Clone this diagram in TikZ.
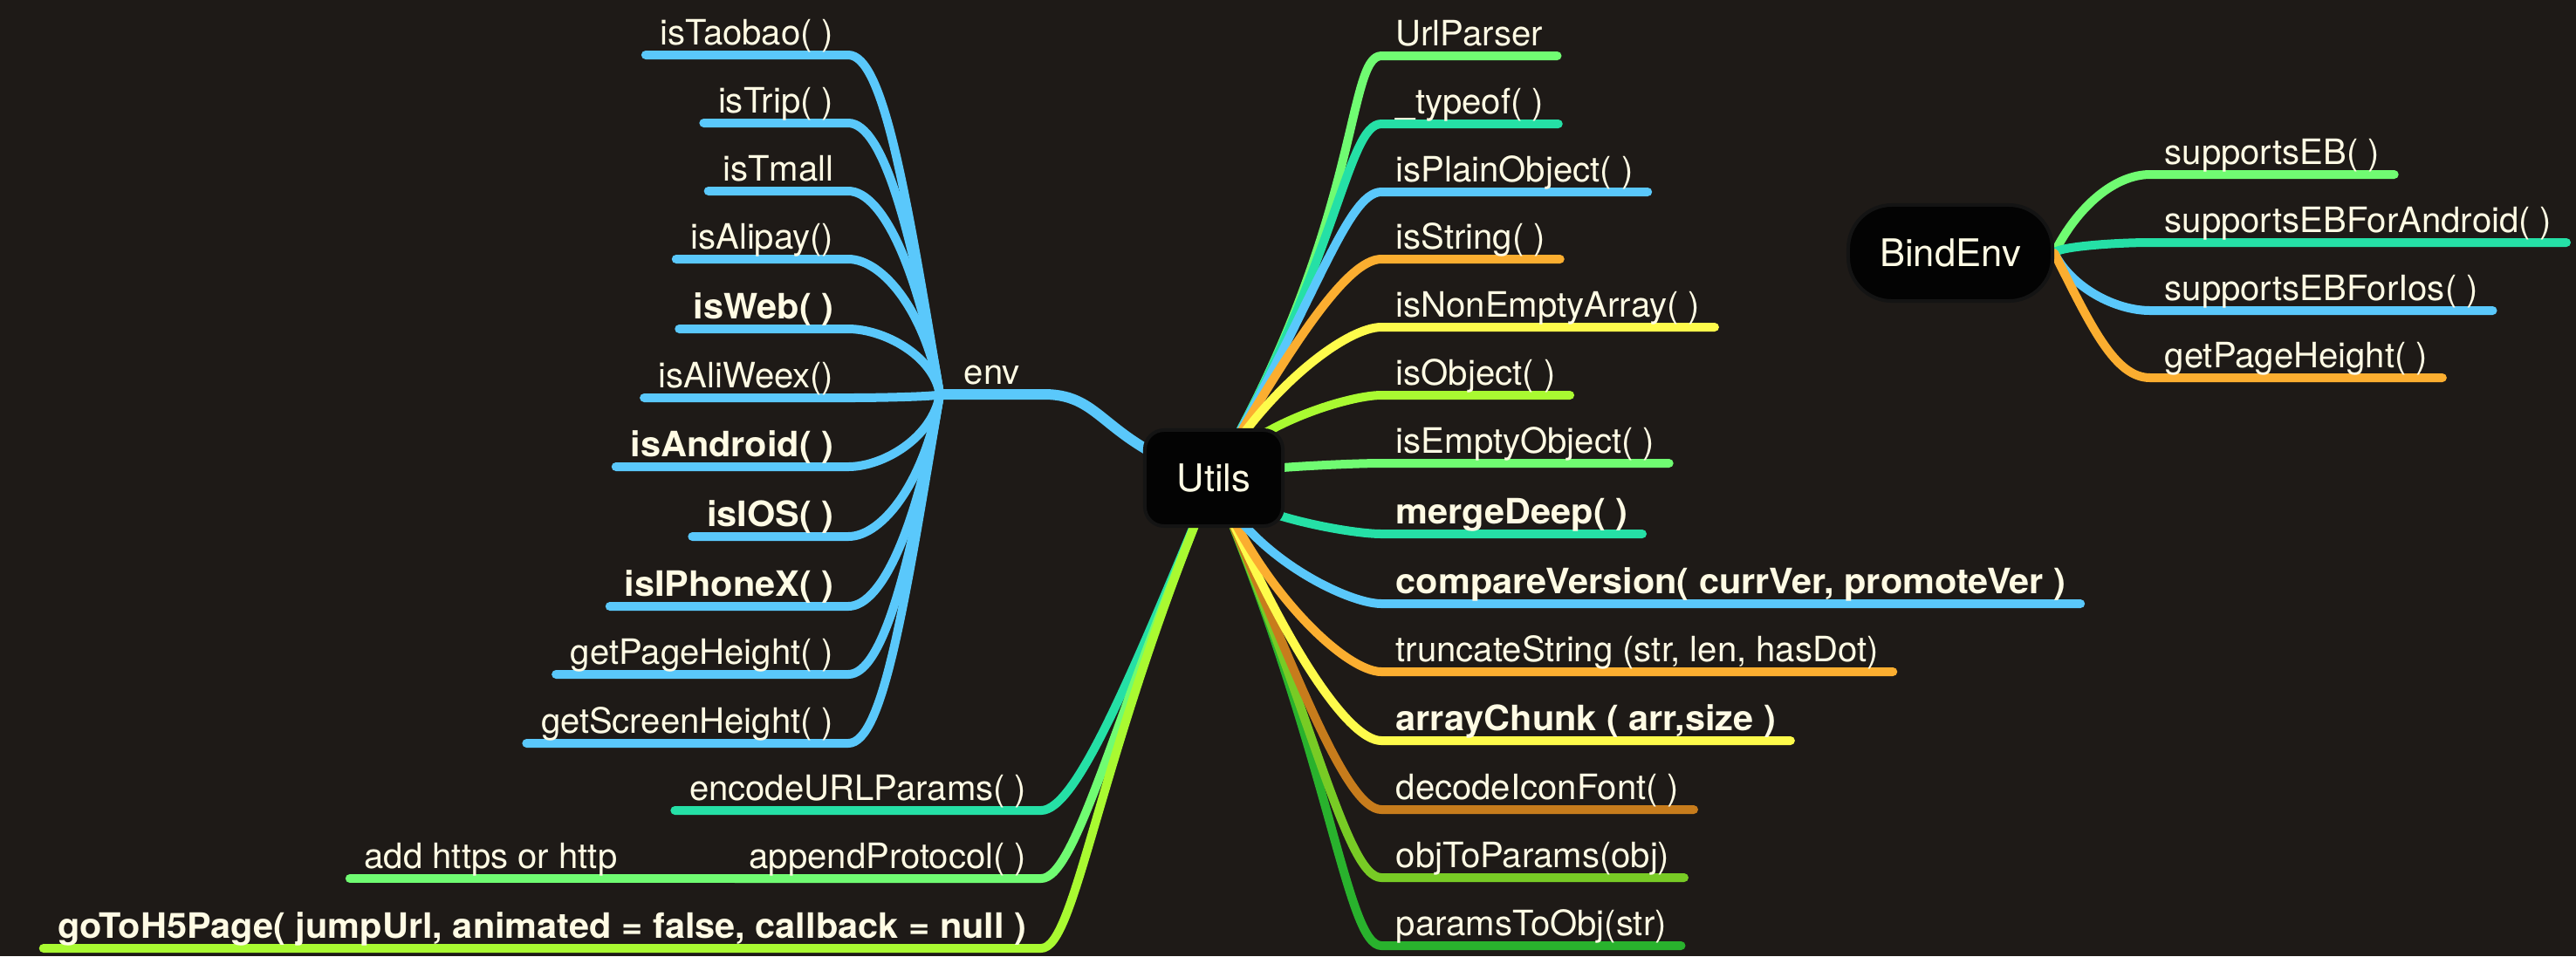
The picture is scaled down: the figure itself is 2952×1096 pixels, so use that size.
\documentclass[tikz,border=0pt]{standalone}
\usepackage{fontspec}
\setmainfont{TeX Gyre Heros}[BoldFeatures={FakeStretch=1.035}]
\usepackage{tikz}
\usetikzlibrary{positioning, calc, backgrounds}
\definecolor{mapbg}{HTML}{1E1A17}
\definecolor{maptext}{HTML}{FFFBE4}
\definecolor{mapbox}{HTML}{030303}
\definecolor{mapring}{HTML}{141414}
\definecolor{mapblue}{HTML}{5AC8FB}
\definecolor{mapteal}{HTML}{25E0A6}
\definecolor{mapmint}{HTML}{70FC72}
\definecolor{maplime}{HTML}{A9FA31}
\definecolor{mapyellow}{HTML}{FEFB4B}
\definecolor{maporange}{HTML}{FBAE30}
\definecolor{mapbrown}{HTML}{C77C1C}
\definecolor{mapolive}{HTML}{78CB25}
\definecolor{mapgreen}{HTML}{29B22D}
\tikzset{leaf/.style = {text=maptext, font=\fontsize{11.4}{13}\selectfont, inner xsep=0.16cm, inner ysep=0.03cm, text height=0.3cm, text depth=0.08cm}}
\tikzset{leftleaf/.style = {leaf, anchor=south east}}
\tikzset{rightleaf/.style = {leaf, anchor=south west}}
\tikzset{topic/.style = {fill=mapbox, draw=mapring, line width=0.04cm, text=maptext, font=\fontsize{12.4}{14}\selectfont, inner sep=0pt, minimum height=1.1cm}}
\tikzset{branch/.style = {draw=#1, line width=0.1cm, line cap=round, line join=round}}
\tikzset{mapcurve/.style = {to path={let \p1=(\tikztostart), \p2=(\tikztotarget) in
  .. controls ({\x1+#1*abs(\y2-\y1)*sign(\x2-\x1)}, {\y1+0.6*(\y2-\y1)}) and ({\x2-11.4pt*sign(\x2-\x1)}, \y2) .. (\tikztotarget)}}}

\begin{document}
\begin{tikzpicture}[x=0.01cm, y=-0.01cm]
    \useasboundingbox (0,0) rectangle (2952,1096);

    \node [topic, minimum width=1.58cm, rounded corners=0.22cm] (utils) at (1391,548) {Utils};
    \node [topic, minimum width=2.34cm, rounded corners=0.5cm] (bindenv) at (2235,290) {BindEnv};

    \node [leaf, anchor=south west, inner xsep=0.27cm] (env) at (1077,452) {env};
    \node [leftleaf] (taobao)  at (972, 63) {isTaobao( )};
    \node [leftleaf] (trip)    at (972,141) {isTrip( )};
    \node [leftleaf] (tmall)   at (972,219) {isTmall};
    \node [leftleaf] (alipay)  at (972,297) {isAlipay()};
    \node [leftleaf] (web)     at (972,377) {\textbf{isWeb( )}};
    \node [leftleaf] (weex)    at (972,456) {isAliWeex()};
    \node [leftleaf] (android) at (972,535) {\textbf{isAndroid( )}};
    \node [leftleaf] (ios)     at (972,615) {\textbf{isIOS( )}};
    \node [leftleaf] (iphonex) at (972,695) {\textbf{isIPhoneX( )}};
    \node [leftleaf] (pageh)   at (972,773) {getPageHeight( )};
    \node [leftleaf] (screenh) at (972,852) {getScreenHeight( )};

    \node [leftleaf] (encode) at (1193, 929) {encodeURLParams( )};
    \node [leftleaf] (append) at (1193,1007) {appendProtocol( )};
    \node [leftleaf] (https)  at (724,1007) {add https or http};
    \node [leftleaf] (gotoh5) at (1193,1087) {\textbf{goToH5Page( jumpUrl, animated = false, callback = null )}};

    \node [rightleaf] (urlparser) at (1583,  64) {UrlParser};
    \node [rightleaf] (typeof)    at (1583, 142) {\_typeof( )};
    \node [rightleaf] (plainobj)  at (1583, 220) {isPlainObject( )};
    \node [rightleaf] (string)    at (1583, 297) {isString( )};
    \node [rightleaf] (nonempty)  at (1583, 375) {isNonEmptyArray( )};
    \node [rightleaf] (object)    at (1583, 453) {isObject( )};
    \node [rightleaf] (emptyobj)  at (1583, 531) {isEmptyObject( )};
    \node [rightleaf] (merge)     at (1583, 612) {\textbf{mergeDeep( )}};
    \node [rightleaf] (compare)   at (1583, 692) {\textbf{compareVersion( currVer, promoteVer )}};
    \node [rightleaf] (truncate)  at (1583, 770) {truncateString (str, len, hasDot)};
    \node [rightleaf] (chunk)     at (1583, 849) {\textbf{arrayChunk ( arr,size )}};
    \node [rightleaf] (iconfont)  at (1583, 928) {decodeIconFont( )};
    \node [rightleaf] (toparams)  at (1583,1006) {objToParams(obj)};
    \node [rightleaf] (toobj)     at (1583,1084) {paramsToObj(str)};

    \node [rightleaf] (supeb)      at (2464,200) {supportsEB( )};
    \node [rightleaf] (supandroid) at (2464,278) {supportsEBForAndroid( )};
    \node [rightleaf] (supios)     at (2464,356) {supportsEBForIos( )};
    \node [rightleaf] (bindpageh)  at (2464,433) {getPageHeight( )};

    \begin{scope}[on background layer]
        \fill [mapbg] (0,0) rectangle (2952,1096);

        \draw [branch=mapblue, line width=0.12cm] (utils.center) .. controls +(-130,-40) and +(70,0) .. (env.south east) -- (env.south west);
        \draw [branch=mapblue] (env.south west) to[mapcurve=0.1] (taobao.south east) -- (taobao.south west);
        \draw [branch=mapblue] (env.south west) to[mapcurve=0.1] (trip.south east) -- (trip.south west);
        \draw [branch=mapblue] (env.south west) to[mapcurve=0.1] (tmall.south east) -- (tmall.south west);
        \draw [branch=mapblue] (env.south west) to[mapcurve=0.1] (alipay.south east) -- (alipay.south west);
        \draw [branch=mapblue] (env.south west) to[mapcurve=0.1] (web.south east) -- (web.south west);
        \draw [branch=mapblue] (env.south west) to[mapcurve=0.1] (weex.south east) -- (weex.south west);
        \draw [branch=mapblue] (env.south west) to[mapcurve=0.1] (android.south east) -- (android.south west);
        \draw [branch=mapblue] (env.south west) to[mapcurve=0.1] (ios.south east) -- (ios.south west);
        \draw [branch=mapblue] (env.south west) to[mapcurve=0.1] (iphonex.south east) -- (iphonex.south west);
        \draw [branch=mapblue] (env.south west) to[mapcurve=0.1] (pageh.south east) -- (pageh.south west);
        \draw [branch=mapblue] (env.south west) to[mapcurve=0.1] (screenh.south east) -- (screenh.south west);

        \draw [branch=mapteal] (utils.center) to[mapcurve=0.25] (encode.south east) -- (encode.south west);
        \draw [branch=mapmint] (utils.center) to[mapcurve=0.25] (append.south east) -- (append.south west);
        \draw [branch=mapmint] (append.south west) -- (https.south west);
        \draw [branch=maplime] (utils.center) to[mapcurve=0.25] (gotoh5.south east) -- (gotoh5.south west);

        \draw [branch=mapmint]   (utils.center) to[mapcurve=0.35] (urlparser.south west) -- (urlparser.south east);
        \draw [branch=mapteal]   (utils.center) to[mapcurve=0.35] (typeof.south west) -- (typeof.south east);
        \draw [branch=mapblue]   (utils.center) to[mapcurve=0.35] (plainobj.south west) -- (plainobj.south east);
        \draw [branch=maporange] (utils.center) to[mapcurve=0.35] (string.south west) -- (string.south east);
        \draw [branch=mapyellow] (utils.center) to[mapcurve=0.35] (nonempty.south west) -- (nonempty.south east);
        \draw [branch=maplime]   (utils.center) to[mapcurve=0.35] (object.south west) -- (object.south east);
        \draw [branch=mapmint]   (utils.center) to[mapcurve=0.35] (emptyobj.south west) -- (emptyobj.south east);
        \draw [branch=mapgreen]  (utils.center) to[mapcurve=0.25] (toobj.south west) -- (toobj.south east);
        \draw [branch=mapolive]  (utils.center) to[mapcurve=0.25] (toparams.south west) -- (toparams.south east);
        \draw [branch=mapbrown]  (utils.center) to[mapcurve=0.25] (iconfont.south west) -- (iconfont.south east);
        \draw [branch=mapyellow] (utils.center) to[mapcurve=0.25] (chunk.south west) -- (chunk.south east);
        \draw [branch=maporange] (utils.center) to[mapcurve=0.25] (truncate.south west) -- (truncate.south east);
        \draw [branch=mapblue]   (utils.center) to[mapcurve=0.25] (compare.south west) -- (compare.south east);
        \draw [branch=mapteal]   (utils.center) to[mapcurve=0.25] (merge.south west) -- (merge.south east);

        \draw [branch=mapmint]   (bindenv.east) to[mapcurve=0.3] (supeb.south west) -- (supeb.south east);
        \draw [branch=mapteal]   (bindenv.east) to[mapcurve=0.3] (supandroid.south west) -- (supandroid.south east);
        \draw [branch=mapblue]   (bindenv.east) to[mapcurve=0.3] (supios.south west) -- (supios.south east);
        \draw [branch=maporange] (bindenv.east) to[mapcurve=0.3] (bindpageh.south west) -- (bindpageh.south east);
    \end{scope}
\end{tikzpicture}
\end{document}
